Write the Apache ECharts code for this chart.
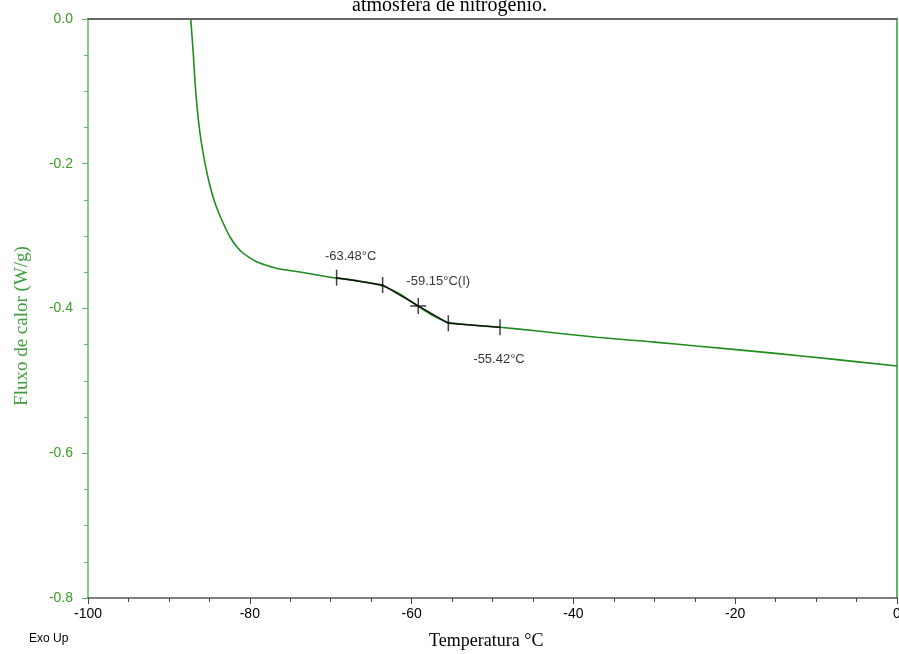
<!DOCTYPE html>
<html>
<head>
<meta charset="utf-8">
<script src="https://cdn.jsdelivr.net/npm/echarts@6/dist/echarts.min.js"></script>
<style>
html,body{margin:0;padding:0;background:#fff;}
#chart{width:899px;height:654px;}
</style>
</head>
<body>
<div id="chart"></div>
<script>
// Green DSC curve (temperature °C, heat flow W/g)
const curveTemp = [-87.3, -87.02, -86.65, -86.16, -85.54, -84.92, -84.30, -83.68, -83.07, -82.45, -81.58, -80.84, -79.98, -79.11, -77.87, -76.64, -73.79, -70.95, -69.27, -66.5, -63.58, -61.3, -59.18, -57.3, -55.46, -52.0, -49.07, -45, -37.1, -30, -24.8, -15, -8, 0];
const curveFlux = [0.0, -0.0428, -0.105, -0.1575, -0.199, -0.2307, -0.2542, -0.2722, -0.2874, -0.3012, -0.315, -0.3233, -0.330, -0.3357, -0.3406, -0.3447, -0.3496, -0.3551, -0.358, -0.362, -0.369, -0.381, -0.397, -0.410, -0.419, -0.4235, -0.426, -0.4305, -0.4398, -0.4465, -0.4518, -0.462, -0.470, -0.4794];
// Glass-transition analysis points (black)
const tgTemp = [-69.27, -63.58, -59.18, -55.46, -49.07];
const tgFlux = [-0.3574, -0.3675, -0.3965, -0.4205, -0.4260];
const tgLabels = ['-63.48°C', '', '-59.15°C(I)', '', '-55.42°C'];
// Axis ticks
const xTicks = [-100, -80, -60, -40, -20, 0];
const yTicks = [0.0, -0.2, -0.4, -0.6, -0.8];

const titleText = 'atmosfera de nitrogênio.';
const xName = 'Temperatura °C';
const yName = 'Fluxo de calor (W/g)';

const green = '#1f8c1f';
const axisGreen = '#5cb85c';
const labelGreen = '#3c9c24';

const chart = echarts.init(document.getElementById('chart'), null, {renderer: 'canvas'});

const curveData = curveTemp.map((t, i) => [t, curveFlux[i]]);
const tgData = tgTemp.map((t, i) => [t, tgFlux[i]]);
const labelOffsets = [[14, -21], null, [20, -25], null, [-1, 32]];

chart.setOption({
  animation: false,
  backgroundColor: '#fff',
  grid: {left: 88, right: 2, top: 19, bottom: 56, containLabel: false, outerBoundsMode: 'none'},
  graphic: [
    {type: 'text', left: 'center', top: -4, style: {text: titleText, font: '20px "Liberation Serif"', fill: '#000'}},
    {type: 'text', left: 29, top: 633, style: {text: 'Exo Up', font: '12px "Liberation Sans"', fill: '#000'}},
    {type: 'text', left: 429, top: 632, style: {text: xName, font: '18px "Liberation Serif"', fill: '#000'}},
    {type: 'text', x: 22, y: 326, rotation: Math.PI / 2, style: {text: yName, font: '19px "Liberation Serif"', fill: '#3f9f3f', align: 'center', verticalAlign: 'middle'}}
  ],
  xAxis: [
    {
      type: 'value', min: xTicks[0], max: xTicks[xTicks.length - 1], interval: 20, position: 'bottom',
      axisLine: {show: true, onZero: false, lineStyle: {color: '#555', width: 1.5}},
      axisTick: {show: true, inside: false, length: 6, lineStyle: {color: '#444'}},
      minorTick: {show: true, splitNumber: 4, length: 4, lineStyle: {color: '#444'}},
      splitLine: {show: false},
      axisLabel: {color: '#000', fontFamily: 'Liberation Sans', fontSize: 14, margin: 9}
    },
    {
      type: 'value', min: xTicks[0], max: xTicks[xTicks.length - 1], position: 'top',
      axisLine: {show: true, onZero: false, lineStyle: {color: '#666', width: 2}},
      axisTick: {show: false}, axisLabel: {show: false}, splitLine: {show: false}
    }
  ],
  yAxis: [
    {
      type: 'value', min: yTicks[yTicks.length - 1], max: yTicks[0], interval: 0.2, position: 'left',
      axisLine: {show: true, onZero: false, lineStyle: {color: axisGreen, width: 1.5}},
      axisTick: {show: true, inside: false, length: 6, lineStyle: {color: axisGreen}},
      minorTick: {show: true, splitNumber: 4, length: 4, lineStyle: {color: axisGreen}},
      splitLine: {show: false},
      axisLabel: {color: labelGreen, fontFamily: 'Liberation Sans', fontSize: 14, margin: 15,
        formatter: v => v.toFixed(1)}
    },
    {
      type: 'value', min: yTicks[yTicks.length - 1], max: yTicks[0], position: 'right',
      axisLine: {show: true, onZero: false, lineStyle: {color: axisGreen, width: 2}},
      axisTick: {show: false}, axisLabel: {show: false}, splitLine: {show: false}
    }
  ],
  series: [
    {
      type: 'line', data: curveData, smooth: 0.3, showSymbol: false, clip: true,
      lineStyle: {color: green, width: 1.6}, z: 2
    },
    {
      type: 'line', data: tgData, showSymbol: false,
      lineStyle: {color: '#111', width: 1.5}, z: 3
    },
    {
      type: 'scatter', data: tgData.map((d, i) => ({
        value: d,
        label: tgLabels[i] ? {show: true, formatter: tgLabels[i], position: 'inside', offset: labelOffsets[i],
          color: '#000', fontFamily: 'Liberation Sans', fontSize: 13} : {show: false}
      })),
      symbol: 'rect', symbolSize: [1.5, 16], itemStyle: {color: '#111'}, z: 4
    },
    {
      type: 'scatter', data: [tgData[2]], symbol: 'rect', symbolSize: [16, 1.5],
      itemStyle: {color: '#111'}, z: 4
    }
  ]
});
</script>
</body>
</html>
